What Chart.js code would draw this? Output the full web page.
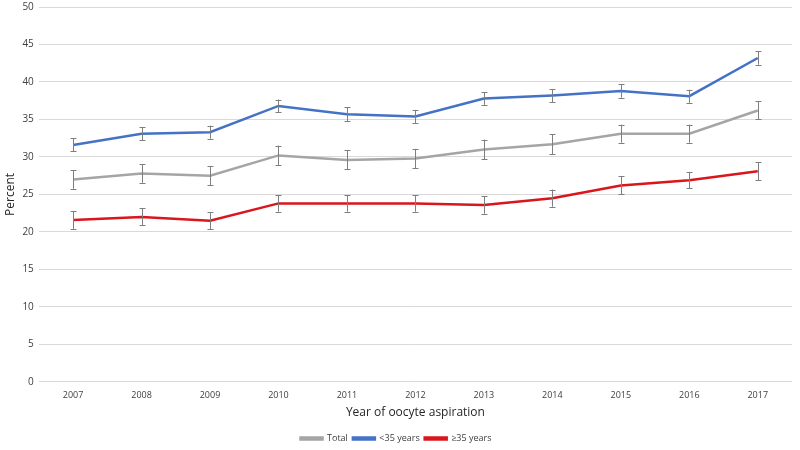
<!DOCTYPE html>
<html>
<head>
<meta charset="utf-8">
<script src="https://cdn.jsdelivr.net/npm/chart.js@4.4.0/dist/chart.umd.min.js"></script>
<style>
  html, body { margin: 0; padding: 0; background: #fff; }
  #wrap { width: 800px; height: 450px; }
</style>
</head>
<body>
<div id="wrap"><canvas id="graphique"></canvas></div>
<script>
// Données
const annees = ['2007', '2008', '2009', '2010', '2011', '2012', '2013', '2014', '2015', '2016', '2017'];
const total = [27.0, 27.8, 27.5, 30.2, 29.6, 29.8, 31.0, 31.7, 33.1, 33.1, 36.2];
const moins35 = [31.6, 33.1, 33.3, 36.8, 35.7, 35.4, 37.8, 38.2, 38.8, 38.1, 43.2];
const plus35 = [21.6, 22.0, 21.5, 23.8, 23.8, 23.8, 23.6, 24.5, 26.2, 26.9, 28.1];
// demi-largeurs des barres d'erreur
const errTotal = [1.25, 1.25, 1.25, 1.3, 1.27, 1.27, 1.3, 1.3, 1.2, 1.2, 1.2];
const errMoins35 = [0.87, 0.9, 0.87, 0.85, 0.9, 0.87, 0.85, 0.87, 0.9, 0.87, 0.9];
const errPlus35 = [1.2, 1.13, 1.13, 1.1, 1.1, 1.1, 1.18, 1.15, 1.2, 1.1, 1.2];

// plugin pour dessiner les barres d'erreur
const barresErreur = {
    id: 'barresErreur',
    afterDatasetsDraw(chart) {
        const ctx = chart.ctx;
        const y = chart.scales.y;
        ctx.save();
        ctx.strokeStyle = '#7f7f7f';
        ctx.lineWidth = 1;
        chart.data.datasets.forEach((ds, i) => {
            const meta = chart.getDatasetMeta(i);
            meta.data.forEach((pt, j) => {
                const v = ds.data[j];
                const e = ds.erreurs[j];
                const x = Math.round(pt.x) + 0.5;
                const y1 = y.getPixelForValue(v + e);
                const y2 = y.getPixelForValue(v - e);
                ctx.beginPath();
                ctx.moveTo(x, y1);
                ctx.lineTo(x, y2);
                ctx.moveTo(x - 3, Math.round(y1) + 0.5);
                ctx.lineTo(x + 3, Math.round(y1) + 0.5);
                ctx.moveTo(x - 3, Math.round(y2) + 0.5);
                ctx.lineTo(x + 3, Math.round(y2) + 0.5);
                ctx.stroke();
            });
        });
        ctx.restore();
    }
};

const police = "'Open Sans', 'Liberation Sans', sans-serif";

new Chart(document.getElementById('graphique'), {
    type: 'line',
    data: {
        labels: annees,
        datasets: [
            {
                label: 'Total',
                data: total,
                erreurs: errTotal,
                borderColor: '#a5a5a5',
                backgroundColor: '#a5a5a5',
                borderWidth: 2.5,
                pointRadius: 0,
                tension: 0
            },
            {
                label: '<35 years',
                data: moins35,
                erreurs: errMoins35,
                borderColor: '#4472c4',
                backgroundColor: '#4472c4',
                borderWidth: 2.5,
                pointRadius: 0,
                tension: 0
            },
            {
                label: '≥35 years',
                data: plus35,
                erreurs: errPlus35,
                borderColor: '#d9161c',
                backgroundColor: '#d9161c',
                borderWidth: 2.5,
                pointRadius: 0,
                tension: 0
            }
        ]
    },
    plugins: [barresErreur],
    options: {
        responsive: true,
        maintainAspectRatio: false,
        animation: false,
        layout: { padding: { left: 0, right: 8, top: 0, bottom: -3 } },
        plugins: {
            tooltip: { enabled: false },
            legend: {
                position: 'bottom',
                labels: {
                    boxWidth: 22,
                    boxHeight: 2,
                    padding: 5,
                    color: '#404040',
                    font: { family: police, size: 9 }
                }
            }
        },
        scales: {
            x: {
                offset: true,
                grid: { display: false },
                border: { display: false },
                ticks: { color: '#404040', font: { family: police, size: 9 }, maxRotation: 0, padding: 0 },
                title: {
                    display: true,
                    text: 'Year of oocyte aspiration',
                    color: '#262626',
                    font: { family: police, size: 12 },
                    padding: { top: 5, bottom: 9 }
                }
            },
            y: {
                min: 0,
                max: 50,
                afterFit(scale) { scale.paddingTop = 7; },
                ticks: { stepSize: 5, color: '#404040', font: { family: police, size: 10 }, padding: 5 },
                grid: { color: '#d9d9d9', lineWidth: 1, drawTicks: false },
                border: { display: false },
                title: {
                    display: true,
                    text: 'Percent',
                    color: '#262626',
                    font: { family: police, size: 12 },
                    padding: { top: 3, bottom: 0 }
                }
            }
        }
    }
});
</script>
</body>
</html>
